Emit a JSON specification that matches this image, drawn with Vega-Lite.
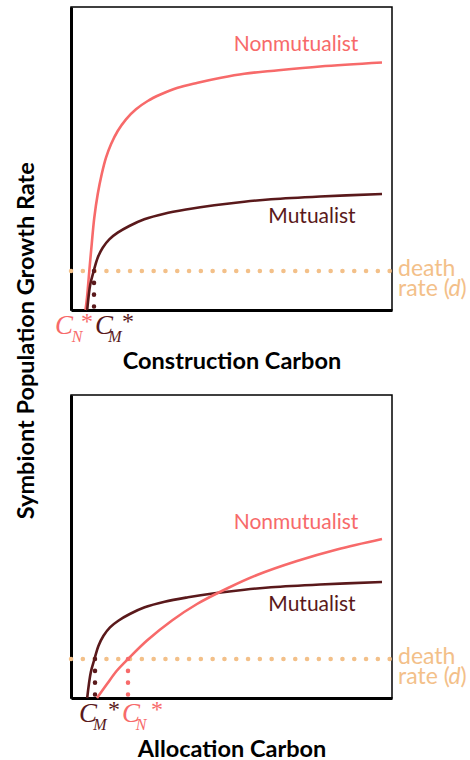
{
  "$schema": "https://vega.github.io/schema/vega-lite/v6.json",
  "padding": {"left": 14, "top": 6, "right": 0, "bottom": 0},
  "background": "white",
  "config": {
    "view": {"stroke": "black", "strokeWidth": 1.5},
    "font": "Lato",
    "axis": {"grid": false}
  },
  "title": {
    "text": "Symbiont Population Growth Rate",
    "orient": "left",
    "anchor": "middle",
    "fontSize": 23.5,
    "fontWeight": "bold",
    "font": "Lato",
    "color": "black",
    "offset": 16,
    "dx": 43
  },
  "spacing": 20,
  "datasets": {
    "curves": [
      {"panel": "top", "series": "Nonmutualist", "x": 14.5, "y": 0},
      {"panel": "top", "series": "Nonmutualist", "x": 16, "y": 12.3},
      {"panel": "top", "series": "Nonmutualist", "x": 18.3, "y": 39},
      {"panel": "top", "series": "Nonmutualist", "x": 20.7, "y": 65.7},
      {"panel": "top", "series": "Nonmutualist", "x": 23.3, "y": 92.3},
      {"panel": "top", "series": "Nonmutualist", "x": 26.7, "y": 115.7},
      {"panel": "top", "series": "Nonmutualist", "x": 30.7, "y": 135.7},
      {"panel": "top", "series": "Nonmutualist", "x": 35, "y": 152.3},
      {"panel": "top", "series": "Nonmutualist", "x": 40, "y": 165.7},
      {"panel": "top", "series": "Nonmutualist", "x": 46.7, "y": 179},
      {"panel": "top", "series": "Nonmutualist", "x": 55, "y": 190.7},
      {"panel": "top", "series": "Nonmutualist", "x": 65, "y": 200.7},
      {"panel": "top", "series": "Nonmutualist", "x": 76.7, "y": 209},
      {"panel": "top", "series": "Nonmutualist", "x": 90, "y": 215.7},
      {"panel": "top", "series": "Nonmutualist", "x": 106.7, "y": 222.3},
      {"panel": "top", "series": "Nonmutualist", "x": 126.7, "y": 227.3},
      {"panel": "top", "series": "Nonmutualist", "x": 150, "y": 232.3},
      {"panel": "top", "series": "Nonmutualist", "x": 173.3, "y": 236.3},
      {"panel": "top", "series": "Nonmutualist", "x": 200, "y": 239},
      {"panel": "top", "series": "Nonmutualist", "x": 249, "y": 243.5},
      {"panel": "top", "series": "Nonmutualist", "x": 311, "y": 247.5},
      {"panel": "top", "series": "Mutualist", "x": 16.2, "y": 0},
      {"panel": "top", "series": "Mutualist", "x": 19.3, "y": 25.7},
      {"panel": "top", "series": "Mutualist", "x": 22.7, "y": 39},
      {"panel": "top", "series": "Mutualist", "x": 26.7, "y": 52.3},
      {"panel": "top", "series": "Mutualist", "x": 31.7, "y": 62.3},
      {"panel": "top", "series": "Mutualist", "x": 38.3, "y": 70.7},
      {"panel": "top", "series": "Mutualist", "x": 46.7, "y": 77.3},
      {"panel": "top", "series": "Mutualist", "x": 58.3, "y": 84},
      {"panel": "top", "series": "Mutualist", "x": 73.3, "y": 90.7},
      {"panel": "top", "series": "Mutualist", "x": 93.3, "y": 96.3},
      {"panel": "top", "series": "Mutualist", "x": 116.7, "y": 100.7},
      {"panel": "top", "series": "Mutualist", "x": 143.3, "y": 104.7},
      {"panel": "top", "series": "Mutualist", "x": 173.3, "y": 108.3},
      {"panel": "top", "series": "Mutualist", "x": 200, "y": 110.7},
      {"panel": "top", "series": "Mutualist", "x": 249, "y": 113.5},
      {"panel": "top", "series": "Mutualist", "x": 311, "y": 116},
      {"panel": "bottom", "series": "Mutualist", "x": 16.2, "y": 0},
      {"panel": "bottom", "series": "Mutualist", "x": 19.8, "y": 25.7},
      {"panel": "bottom", "series": "Mutualist", "x": 23.5, "y": 39},
      {"panel": "bottom", "series": "Mutualist", "x": 27.5, "y": 52.3},
      {"panel": "bottom", "series": "Mutualist", "x": 32.5, "y": 62.3},
      {"panel": "bottom", "series": "Mutualist", "x": 39, "y": 70.7},
      {"panel": "bottom", "series": "Mutualist", "x": 47.3, "y": 77.3},
      {"panel": "bottom", "series": "Mutualist", "x": 58.8, "y": 84},
      {"panel": "bottom", "series": "Mutualist", "x": 73.7, "y": 90.7},
      {"panel": "bottom", "series": "Mutualist", "x": 93.6, "y": 96.3},
      {"panel": "bottom", "series": "Mutualist", "x": 117, "y": 100.7},
      {"panel": "bottom", "series": "Mutualist", "x": 143.5, "y": 104.7},
      {"panel": "bottom", "series": "Mutualist", "x": 173.5, "y": 108.3},
      {"panel": "bottom", "series": "Mutualist", "x": 200, "y": 110.7},
      {"panel": "bottom", "series": "Mutualist", "x": 249, "y": 113.5},
      {"panel": "bottom", "series": "Mutualist", "x": 311, "y": 116},
      {"panel": "bottom", "series": "Nonmutualist", "x": 26, "y": 0},
      {"panel": "bottom", "series": "Nonmutualist", "x": 36, "y": 14},
      {"panel": "bottom", "series": "Nonmutualist", "x": 46, "y": 27.5},
      {"panel": "bottom", "series": "Nonmutualist", "x": 57, "y": 39},
      {"panel": "bottom", "series": "Nonmutualist", "x": 76, "y": 57.5},
      {"panel": "bottom", "series": "Nonmutualist", "x": 101, "y": 77.5},
      {"panel": "bottom", "series": "Nonmutualist", "x": 126, "y": 94},
      {"panel": "bottom", "series": "Nonmutualist", "x": 157, "y": 110},
      {"panel": "bottom", "series": "Nonmutualist", "x": 186, "y": 123},
      {"panel": "bottom", "series": "Nonmutualist", "x": 226, "y": 137},
      {"panel": "bottom", "series": "Nonmutualist", "x": 266, "y": 148.5},
      {"panel": "bottom", "series": "Nonmutualist", "x": 311, "y": 159}
    ],
    "death": [
      {"x": 0, "y": 39},
      {"x": 321, "y": 39}
    ],
    "vdots": [
      {"panel": "top", "series": "Mutualist", "x": 23, "y": 39, "y2": 0},
      {"panel": "bottom", "series": "Mutualist", "x": 24, "y": 39, "y2": 0},
      {"panel": "bottom", "series": "Nonmutualist", "x": 57, "y": 39, "y2": 0}
    ],
    "labels": [
      {"panel": "top", "series": "Nonmutualist", "text": "Nonmutualist", "x": 225, "y": 265},
      {"panel": "top", "series": "Mutualist", "text": "Mutualist", "x": 241, "y": 93},
      {"panel": "bottom", "series": "Nonmutualist", "text": "Nonmutualist", "x": 225, "y": 175},
      {"panel": "bottom", "series": "Mutualist", "text": "Mutualist", "x": 241, "y": 93}
    ],
    "deathtext": [
      {"text": "death", "x": 327, "y": 41},
      {"text": "rate (", "x": 327, "y": 21}
    ],
    "deathitalic": [
      {"text": "d", "x": 377.5, "y": 21}
    ],
    "deathclose": [
      {"text": ")", "x": 389.5, "y": 21}
    ],
    "cmain": [
      {"panel": "top", "series": "Nonmutualist", "text": "C", "x": -7, "y": -16},
      {"panel": "top", "series": "Mutualist", "text": "C", "x": 33, "y": -16},
      {"panel": "bottom", "series": "Mutualist", "text": "C", "x": 17, "y": -16},
      {"panel": "bottom", "series": "Nonmutualist", "text": "C", "x": 60, "y": -16}
    ],
    "csub": [
      {"panel": "top", "series": "Nonmutualist", "text": "N", "x": 6, "y": -27},
      {"panel": "top", "series": "Mutualist", "text": "M", "x": 44, "y": -27},
      {"panel": "bottom", "series": "Mutualist", "text": "M", "x": 29, "y": -27},
      {"panel": "bottom", "series": "Nonmutualist", "text": "N", "x": 70, "y": -27}
    ],
    "cstar": [
      {"panel": "top", "series": "Nonmutualist", "text": "*", "x": 16, "y": -12},
      {"panel": "top", "series": "Mutualist", "text": "*", "x": 57, "y": -12},
      {"panel": "bottom", "series": "Mutualist", "text": "*", "x": 43, "y": -12},
      {"panel": "bottom", "series": "Nonmutualist", "text": "*", "x": 86, "y": -12}
    ]
  },
  "vconcat": [
    {
      "width": 321,
      "height": 303,
      "encoding": {
        "x": {"field": "x", "type": "quantitative", "scale": {"domain": [0, 321], "nice": false, "zero": false},
              "axis": {"title": "Construction Carbon", "labels": false, "ticks": false, "grid": false, "domain": true, "domainColor": "black", "domainWidth": 3, "titleFontSize": 23.5, "titleFontWeight": "bold", "titleColor": "black", "titlePadding": 39, "titleFont": "Lato"}},
        "y": {"field": "y", "type": "quantitative", "scale": {"domain": [0, 303], "nice": false, "zero": false},
              "axis": {"title": null, "labels": false, "ticks": false, "grid": false, "domain": true, "domainColor": "black", "domainWidth": 3}}
      },
      "layer": [
        {
          "data": {"name": "death"},
          "mark": {"type": "line", "color": "#f3c089", "strokeWidth": 4.5, "strokeDash": [0.1, 11.7], "strokeCap": "round"}
        },
        {
          "data": {"name": "vdots"},
          "transform": [{"filter": "datum.panel == 'top'"}],
          "mark": {"type": "rule", "strokeWidth": 4.5, "strokeDash": [0.1, 11.7], "strokeCap": "round"},
          "encoding": {
            "y2": {"field": "y2"},
            "color": {"field": "series", "type": "nominal", "scale": {"domain": ["Nonmutualist", "Mutualist"], "range": ["#f76a6a", "#5a191b"]}, "legend": null}
          }
        },
        {
          "data": {"name": "curves"},
          "transform": [{"filter": "datum.panel == 'top'"}],
          "mark": {"type": "line", "strokeWidth": 2.6, "interpolate": "catmull-rom"},
          "encoding": {
            "color": {"field": "series", "type": "nominal", "scale": {"domain": ["Nonmutualist", "Mutualist"], "range": ["#f76a6a", "#5a191b"]}, "legend": null}
          }
        },
        {
          "data": {"name": "labels"},
          "transform": [{"filter": "datum.panel == 'top'"}],
          "mark": {"type": "text", "fontSize": 21, "font": "Lato", "align": "center", "baseline": "middle"},
          "encoding": {
            "text": {"field": "text"},
            "color": {"field": "series", "type": "nominal", "scale": {"domain": ["Nonmutualist", "Mutualist"], "range": ["#f76a6a", "#5a191b"]}, "legend": null}
          }
        },
        {
          "data": {"name": "deathtext"},
          "mark": {"type": "text", "fontSize": 23, "font": "Lato", "align": "left", "baseline": "middle", "color": "#f3c089"},
          "encoding": {"text": {"field": "text"}}
        },
        {
          "data": {"name": "deathitalic"},
          "mark": {"type": "text", "fontSize": 23, "font": "Lato", "fontStyle": "italic", "align": "left", "baseline": "middle", "color": "#f3c089"},
          "encoding": {"text": {"field": "text"}}
        },
        {
          "data": {"name": "deathclose"},
          "mark": {"type": "text", "fontSize": 23, "font": "Lato", "align": "left", "baseline": "middle", "color": "#f3c089"},
          "encoding": {"text": {"field": "text"}}
        },
        {
          "data": {"name": "cmain"},
          "transform": [{"filter": "datum.panel == 'top'"}],
          "mark": {"type": "text", "fontSize": 27, "font": "Liberation Serif", "fontStyle": "italic", "align": "center", "baseline": "middle"},
          "encoding": {
            "text": {"field": "text"},
            "color": {"field": "series", "type": "nominal", "scale": {"domain": ["Nonmutualist", "Mutualist"], "range": ["#f76a6a", "#5a191b"]}, "legend": null}
          }
        },
        {
          "data": {"name": "csub"},
          "transform": [{"filter": "datum.panel == 'top'"}],
          "mark": {"type": "text", "fontSize": 16, "font": "Liberation Serif", "fontStyle": "italic", "align": "center", "baseline": "middle"},
          "encoding": {
            "text": {"field": "text"},
            "color": {"field": "series", "type": "nominal", "scale": {"domain": ["Nonmutualist", "Mutualist"], "range": ["#f76a6a", "#5a191b"]}, "legend": null}
          }
        },
        {
          "data": {"name": "cstar"},
          "transform": [{"filter": "datum.panel == 'top'"}],
          "mark": {"type": "text", "fontSize": 24, "font": "Liberation Serif", "align": "center", "baseline": "middle"},
          "encoding": {
            "text": {"field": "text"},
            "color": {"field": "series", "type": "nominal", "scale": {"domain": ["Nonmutualist", "Mutualist"], "range": ["#f76a6a", "#5a191b"]}, "legend": null}
          }
        }
      ]
    },
    {
      "width": 321,
      "height": 303,
      "encoding": {
        "x": {"field": "x", "type": "quantitative", "scale": {"domain": [0, 321], "nice": false, "zero": false},
              "axis": {"title": "Allocation Carbon", "labels": false, "ticks": false, "grid": false, "domain": true, "domainColor": "black", "domainWidth": 3, "titleFontSize": 23.5, "titleFontWeight": "bold", "titleColor": "black", "titlePadding": 39, "titleFont": "Lato"}},
        "y": {"field": "y", "type": "quantitative", "scale": {"domain": [0, 303], "nice": false, "zero": false},
              "axis": {"title": null, "labels": false, "ticks": false, "grid": false, "domain": true, "domainColor": "black", "domainWidth": 3}}
      },
      "layer": [
        {
          "data": {"name": "death"},
          "mark": {"type": "line", "color": "#f3c089", "strokeWidth": 4.5, "strokeDash": [0.1, 11.7], "strokeCap": "round"}
        },
        {
          "data": {"name": "vdots"},
          "transform": [{"filter": "datum.panel == 'bottom'"}],
          "mark": {"type": "rule", "strokeWidth": 4.5, "strokeDash": [0.1, 11.7], "strokeCap": "round"},
          "encoding": {
            "y2": {"field": "y2"},
            "color": {"field": "series", "type": "nominal", "scale": {"domain": ["Nonmutualist", "Mutualist"], "range": ["#f76a6a", "#5a191b"]}, "legend": null}
          }
        },
        {
          "data": {"name": "curves"},
          "transform": [{"filter": "datum.panel == 'bottom'"}],
          "mark": {"type": "line", "strokeWidth": 2.6, "interpolate": "catmull-rom"},
          "encoding": {
            "color": {"field": "series", "type": "nominal", "scale": {"domain": ["Nonmutualist", "Mutualist"], "range": ["#f76a6a", "#5a191b"]}, "legend": null}
          }
        },
        {
          "data": {"name": "labels"},
          "transform": [{"filter": "datum.panel == 'bottom'"}],
          "mark": {"type": "text", "fontSize": 21, "font": "Lato", "align": "center", "baseline": "middle"},
          "encoding": {
            "text": {"field": "text"},
            "color": {"field": "series", "type": "nominal", "scale": {"domain": ["Nonmutualist", "Mutualist"], "range": ["#f76a6a", "#5a191b"]}, "legend": null}
          }
        },
        {
          "data": {"name": "deathtext"},
          "mark": {"type": "text", "fontSize": 23, "font": "Lato", "align": "left", "baseline": "middle", "color": "#f3c089"},
          "encoding": {"text": {"field": "text"}}
        },
        {
          "data": {"name": "deathitalic"},
          "mark": {"type": "text", "fontSize": 23, "font": "Lato", "fontStyle": "italic", "align": "left", "baseline": "middle", "color": "#f3c089"},
          "encoding": {"text": {"field": "text"}}
        },
        {
          "data": {"name": "deathclose"},
          "mark": {"type": "text", "fontSize": 23, "font": "Lato", "align": "left", "baseline": "middle", "color": "#f3c089"},
          "encoding": {"text": {"field": "text"}}
        },
        {
          "data": {"name": "cmain"},
          "transform": [{"filter": "datum.panel == 'bottom'"}],
          "mark": {"type": "text", "fontSize": 27, "font": "Liberation Serif", "fontStyle": "italic", "align": "center", "baseline": "middle"},
          "encoding": {
            "text": {"field": "text"},
            "color": {"field": "series", "type": "nominal", "scale": {"domain": ["Nonmutualist", "Mutualist"], "range": ["#f76a6a", "#5a191b"]}, "legend": null}
          }
        },
        {
          "data": {"name": "csub"},
          "transform": [{"filter": "datum.panel == 'bottom'"}],
          "mark": {"type": "text", "fontSize": 16, "font": "Liberation Serif", "fontStyle": "italic", "align": "center", "baseline": "middle"},
          "encoding": {
            "text": {"field": "text"},
            "color": {"field": "series", "type": "nominal", "scale": {"domain": ["Nonmutualist", "Mutualist"], "range": ["#f76a6a", "#5a191b"]}, "legend": null}
          }
        },
        {
          "data": {"name": "cstar"},
          "transform": [{"filter": "datum.panel == 'bottom'"}],
          "mark": {"type": "text", "fontSize": 24, "font": "Liberation Serif", "align": "center", "baseline": "middle"},
          "encoding": {
            "text": {"field": "text"},
            "color": {"field": "series", "type": "nominal", "scale": {"domain": ["Nonmutualist", "Mutualist"], "range": ["#f76a6a", "#5a191b"]}, "legend": null}
          }
        }
      ]
    }
  ]
}
